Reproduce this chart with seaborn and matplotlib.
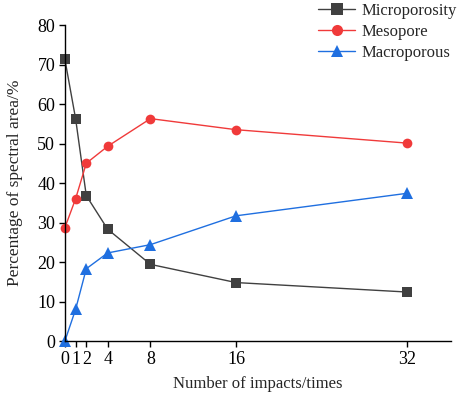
import numpy as np
import pandas as pd
import matplotlib
matplotlib.use("Agg")
import matplotlib.pyplot as plt
import seaborn as sns

# Data
impacts = [0, 1, 2, 4, 8, 16, 32]
microporosity = [71.3, 56.3, 36.8, 28.3, 19.4, 14.8, 12.4]
mesopore = [28.7, 36.0, 45.0, 49.3, 56.3, 53.5, 50.1]
macroporous = [0.0, 8.0, 18.3, 22.3, 24.4, 31.7, 37.4]

sns.set_style("ticks")
plt.rcParams['font.family'] = ['Liberation Serif', 'DejaVu Serif']

df = pd.DataFrame({
    'impacts': impacts * 3,
    'value': microporosity + mesopore + macroporous,
    'type': ['Microporosity'] * 7 + ['Mesopore'] * 7 + ['Macroporous'] * 7,
})

fig = plt.figure(figsize=(4.57, 3.97), dpi=100)
ax = fig.add_axes([0.142, 0.141, 0.845, 0.796])

palette = {'Microporosity': '#404040', 'Mesopore': '#f03a3a', 'Macroporous': '#1f6fe0'}
markers = {'Microporosity': 's', 'Mesopore': 'o', 'Macroporous': '^'}
sns.lineplot(data=df, x='impacts', y='value', hue='type', style='type',
             palette=palette, markers=markers, dashes=False, markersize=7,
             markeredgewidth=0, linewidth=1.0, ax=ax)
for ln in ax.lines:
    if ln.get_marker() == '^':
        ln.set_markersize(8)
    ln.set_clip_on(False)

ax.set_xlim(0, 36.1)
ax.set_ylim(0, 80)
ax.set_xticks(impacts)
ax.set_yticks(range(0, 81, 10))
ax.tick_params(labelsize=13, direction='out', length=4, width=1, colors='black', pad=3)
for s in ['left', 'bottom']:
    ax.spines[s].set_linewidth(1)
    ax.spines[s].set_color('black')
sns.despine(ax=ax)

ax.set_xlabel('Number of impacts/times', fontsize=12, labelpad=6)
ax.set_ylabel('Percentage of spectral area/%', fontsize=12.5, labelpad=10)

leg = ax.legend(loc='upper right', bbox_to_anchor=(1.033, 1.09), frameon=False,
                fontsize=12, handlelength=2.2, handletextpad=0.4,
                labelspacing=0.28, borderaxespad=0)
for h in leg.legend_handles:
    h.set_markeredgewidth(0)
    h.set_markersize(8)

fig.savefig('out.png', dpi=100)
